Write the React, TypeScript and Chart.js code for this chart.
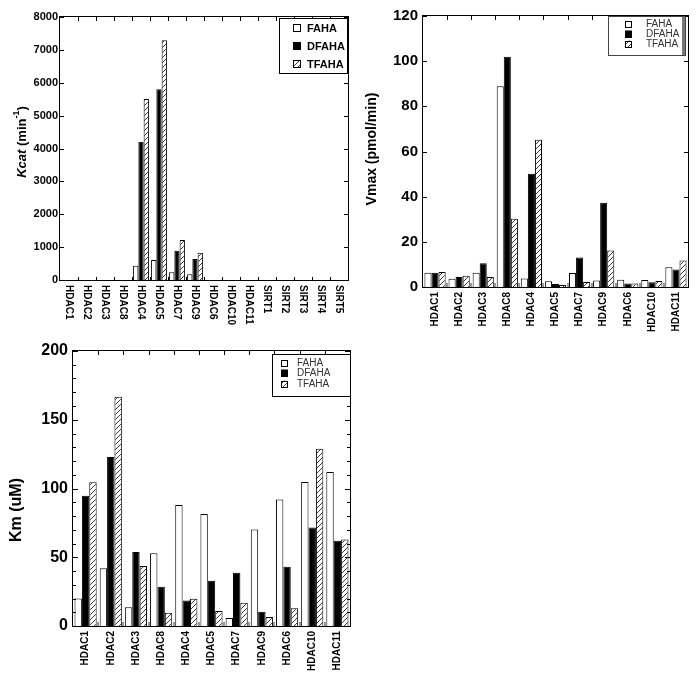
import React, { useEffect, useRef } from "react";
import { Chart, registerables } from "chart.js";
Chart.register(...registerables);

const seriesNames = ["FAHA", "DFAHA", "TFAHA"];

const kcatCategories = ["HDAC1", "HDAC2", "HDAC3", "HDAC8", "HDAC4", "HDAC5", "HDAC7", "HDAC9", "HDAC6", "HDAC10", "HDAC11", "SIRT1", "SIRT2", "SIRT3", "SIRT4", "SIRT5"];
const kcatFAHA = [0, 0, 0, 0, 435, 608, 233, 172, 0, 0, 0, 0, 0, 0, 0, 0];
const kcatDFAHA = [0, 0, 0, 0, 4203, 5802, 891, 638, 0, 0, 0, 0, 0, 0, 0, 0];
const kcatTFAHA = [0, 0, 0, 0, 5509, 7291, 1215, 830, 0, 0, 0, 0, 0, 0, 0, 0];

const enzymeCategories = ["HDAC1", "HDAC2", "HDAC3", "HDAC8", "HDAC4", "HDAC5", "HDAC7", "HDAC9", "HDAC6", "HDAC10", "HDAC11"];
const vmaxFAHA = [6.3, 3.7, 6.3, 88.9, 3.8, 2.5, 6.2, 2.9, 3.2, 3.1, 8.8];
const vmaxDFAHA = [6.3, 4.4, 10.5, 102, 50.1, 1.3, 13.1, 37.3, 1.6, 2.1, 7.7];
const vmaxTFAHA = [6.6, 5.0, 4.4, 30.2, 65.2, 0.9, 2.2, 16.2, 1.6, 2.7, 11.7];

const kmFAHA = [20, 42, 13.6, 53, 88, 81.4, 5.8, 70.2, 92, 104.8, 112];
const kmDFAHA = [94.7, 123, 53.8, 28.6, 18.6, 32.9, 38.7, 10.4, 43.1, 71.7, 62];
const kmTFAHA = [104.6, 166.8, 43.6, 9.7, 19.9, 10.9, 17, 6.5, 13, 129, 63];

const FONT = "'Liberation Sans', Arial, Helvetica, sans-serif";

function makeHatch(): CanvasPattern | string {
  const c = document.createElement("canvas");
  c.width = 5;
  c.height = 5;
  const g = c.getContext("2d");
  if (!g) return "#fff";
  g.fillStyle = "#fff";
  g.fillRect(0, 0, 5, 5);
  g.strokeStyle = "#222";
  g.lineWidth = 0.9;
  g.beginPath();
  g.moveTo(0, 5);
  g.lineTo(5, 0);
  g.moveTo(-1, 1);
  g.lineTo(1, -1);
  g.moveTo(4, 6);
  g.lineTo(6, 4);
  g.stroke();
  const p = g.createPattern(c, "repeat");
  return p || "#fff";
}

const framePlugin = {
  id: "frame",
  afterDatasetsDraw(chart: any, _args: any, opts: any) {
    const ctx: CanvasRenderingContext2D = chart.ctx;
    const a = chart.chartArea;
    const xs = chart.scales.x;
    const ys = chart.scales.y;
    const L = Math.round(a.left), R = Math.round(a.right), T = Math.round(a.top), B = Math.round(a.bottom);
    ctx.save();
    const n = chart.data.labels.length;
    for (let i = 1; i < n; i++) {
      const x = Math.round((xs.getPixelForValue(i - 1) + xs.getPixelForValue(i)) / 2);
      ctx.fillStyle = opts.bottomTickColor;
      ctx.fillRect(x - Math.floor(opts.bottomTickWidth / 2), B - opts.bottomTickLen, opts.bottomTickWidth, opts.bottomTickLen);
      ctx.fillStyle = "#000";
      ctx.fillRect(x, T, 1, opts.topTickLen);
    }
    ctx.fillStyle = "#000";
    const yMin = ys.min, yMax = ys.max;
    if (opts.minorStep) {
      for (let v = yMin; v <= yMax + 1e-9; v += opts.minorStep) {
        const y = Math.round(ys.getPixelForValue(v));
        ctx.fillRect(L, y, opts.minorLen, 1);
        ctx.fillRect(R - opts.minorLen, y, opts.minorLen, 1);
      }
    }
    ys.ticks.forEach((t: any) => {
      const y = Math.round(ys.getPixelForValue(t.value));
      ctx.fillRect(L, y, opts.majorLen, 1);
      ctx.fillRect(R - opts.majorLen, y, opts.majorLen, 1);
    });
    ctx.strokeStyle = "#000";
    ctx.lineWidth = 1;
    ctx.strokeRect(L - 0.5, T - 0.5, R - L + 1, B - T + 1);

    if (opts.downLabels) {
      ctx.fillStyle = "#000";
      ctx.font = opts.downLabelFont;
      ctx.textAlign = "left";
      ctx.textBaseline = "middle";
      chart.data.labels.forEach((lab: string, i: number) => {
        const x = xs.getPixelForValue(i);
        ctx.save();
        ctx.translate(x, B + 5);
        ctx.rotate(Math.PI / 2);
        ctx.fillText(lab, 0, 0);
        ctx.restore();
      });
    }

    if (opts.title) {
      const parts = opts.title.parts;
      let total = 0;
      parts.forEach((p: any) => {
        ctx.font = p.font;
        total += ctx.measureText(p.text).width;
      });
      ctx.save();
      ctx.translate(opts.title.x, opts.title.y);
      ctx.rotate(-Math.PI / 2);
      ctx.fillStyle = "#000";
      ctx.textBaseline = "middle";
      ctx.textAlign = "left";
      let cx = -total / 2;
      parts.forEach((p: any) => {
        ctx.font = p.font;
        ctx.fillText(p.text, cx, p.dy || 0);
        cx += ctx.measureText(p.text).width;
      });
      ctx.restore();
    }

    if (opts.legend) {
      const lg = opts.legend;
      ctx.fillStyle = "#fff";
      ctx.fillRect(lg.x, lg.y, lg.w, lg.h);
      if (lg.shadow) {
        ctx.fillStyle = "#777";
        ctx.fillRect(lg.x + lg.w - 3, lg.y, 3, lg.h);
      }
      ctx.strokeStyle = lg.border;
      ctx.lineWidth = 1;
      ctx.strokeRect(lg.x + 0.5, lg.y + 0.5, lg.w, lg.h);
      ctx.font = lg.font;
      ctx.textAlign = "left";
      ctx.textBaseline = "middle";
      chart.data.datasets.forEach((ds: any, i: number) => {
        const ry = lg.rows[i];
        ctx.fillStyle = ds.backgroundColor;
        ctx.fillRect(lg.boxX, ry - lg.box / 2, lg.box, lg.box);
        ctx.strokeStyle = "#000";
        ctx.strokeRect(lg.boxX + 0.5, Math.round(ry - lg.box / 2) + 0.5, lg.box - 1, lg.box - 1);
        ctx.fillStyle = lg.color;
        ctx.fillText(ds.label, lg.textX, ry + 0.5);
      });
    }
    ctx.restore();
  },
};

function datasets(vals: number[][], hatch: any) {
  const fills = ["#fff", "#000", hatch];
  return seriesNames.map((name, i) => ({
    label: name,
    data: vals[i],
    backgroundColor: fills[i],
    borderColor: "#000",
    borderWidth: 1,
    categoryPercentage: 0.88,
    barPercentage: 1,
  }));
}

const plainTick = (v: any) => String(v);

export default function App() {
  const c1 = useRef<HTMLCanvasElement>(null);
  const c2 = useRef<HTMLCanvasElement>(null);
  const c3 = useRef<HTMLCanvasElement>(null);

  useEffect(() => {
    const hatch = makeHatch();
    const charts: Chart[] = [];

    charts.push(
      new Chart(c1.current as HTMLCanvasElement, {
        type: "bar",
        data: { labels: kcatCategories, datasets: datasets([kcatFAHA, kcatDFAHA, kcatTFAHA], hatch) as any },
        plugins: [framePlugin as any],
        options: {
          responsive: false,
          animation: false,
          layout: { padding: { top: 17, right: 12, left: 0, bottom: 0 } },
          plugins: {
            legend: { display: false },
            tooltip: { enabled: false },
            frame: {
              bottomTickColor: "#000", bottomTickWidth: 1, bottomTickLen: 3, topTickLen: 4,
              majorLen: 4, minorStep: 0, minorLen: 0,
              downLabels: true, downLabelFont: `bold 10px ${FONT}`,
              title: {
                x: 22, y: 142,
                parts: [
                  { text: "Kcat", font: `italic bold 13px ${FONT}` },
                  { text: " (min", font: `bold 13px ${FONT}` },
                  { text: "-1", font: `bold 9px ${FONT}`, dy: -5 },
                  { text: ")", font: `bold 13px ${FONT}` },
                ],
              },
              legend: {
                x: 279, y: 18, w: 68, h: 55, shadow: false, border: "#000",
                rows: [28, 46, 64], boxX: 293, box: 8, textX: 307,
                font: `bold 11px ${FONT}`, color: "#000",
              },
            },
          } as any,
          scales: {
            x: {
              grid: { display: false, drawTicks: false },
              border: { display: false },
              ticks: { display: false },
              afterFit: (s: any) => { s.height = 55; },
            },
            y: {
              min: 0, max: 8000,
              grid: { display: false, drawTicks: false },
              border: { display: false },
              ticks: { stepSize: 1000, callback: plainTick, color: "#000", padding: 2, font: { family: FONT, size: 11, weight: "bold" } },
              afterFit: (s: any) => { s.width = 60; },
            },
          },
        },
      })
    );

    charts.push(
      new Chart(c2.current as HTMLCanvasElement, {
        type: "bar",
        data: { labels: enzymeCategories, datasets: datasets([vmaxFAHA, vmaxDFAHA, vmaxTFAHA], hatch) as any },
        plugins: [framePlugin as any],
        options: {
          responsive: false,
          animation: false,
          layout: { padding: { top: 16, right: 9, left: 0, bottom: 0 } },
          plugins: {
            legend: { display: false },
            tooltip: { enabled: false },
            frame: {
              bottomTickColor: "#999", bottomTickWidth: 2, bottomTickLen: 4, topTickLen: 4,
              majorLen: 4, minorStep: 0, minorLen: 0,
              title: {
                x: 12, y: 149,
                parts: [{ text: "Vmax (pmol/min)", font: `bold 14px ${FONT}` }],
              },
              legend: {
                x: 248, y: 16, w: 77, h: 39, shadow: true, border: "#444",
                rows: [24, 34, 44], boxX: 265, box: 7, textX: 286,
                font: `10px ${FONT}`, color: "#333",
              },
            },
          } as any,
          scales: {
            x: {
              grid: { display: false, drawTicks: false },
              border: { display: false },
              ticks: { autoSkip: false, minRotation: 90, maxRotation: 90, padding: 5, color: "#000", font: { family: FONT, size: 10, weight: "bold" } },
              afterFit: (s: any) => { s.height = 48; },
            },
            y: {
              min: 0, max: 120,
              grid: { display: false, drawTicks: false },
              border: { display: false },
              ticks: { stepSize: 20, callback: plainTick, color: "#000", padding: 5, font: { family: FONT, size: 15, weight: "bold" } },
              afterFit: (s: any) => { s.width = 63; },
            },
          },
        },
      })
    );

    charts.push(
      new Chart(c3.current as HTMLCanvasElement, {
        type: "bar",
        data: { labels: enzymeCategories, datasets: datasets([kmFAHA, kmDFAHA, kmTFAHA], hatch) as any },
        plugins: [framePlugin as any],
        options: {
          responsive: false,
          animation: false,
          layout: { padding: { top: 16, right: 10, left: 0, bottom: 0 } },
          plugins: {
            legend: { display: false },
            tooltip: { enabled: false },
            frame: {
              bottomTickColor: "#999", bottomTickWidth: 2, bottomTickLen: 4, topTickLen: 4,
              majorLen: 5, minorStep: 10, minorLen: 3,
              title: {
                x: 17, y: 175,
                parts: [{ text: "Km (uM)", font: `bold 16px ${FONT}` }],
              },
              legend: {
                x: 272, y: 19, w: 78, h: 42, shadow: false, border: "#000",
                rows: [28, 38, 49], boxX: 281, box: 7, textX: 297,
                font: `10px ${FONT}`, color: "#333",
              },
            },
          } as any,
          scales: {
            x: {
              grid: { display: false, drawTicks: false },
              border: { display: false },
              ticks: { autoSkip: false, minRotation: 90, maxRotation: 90, padding: 5, color: "#000", font: { family: FONT, size: 10, weight: "bold" } },
              afterFit: (s: any) => { s.height = 57; },
            },
            y: {
              min: 0, max: 200,
              grid: { display: false, drawTicks: false },
              border: { display: false },
              ticks: { stepSize: 50, callback: plainTick, color: "#000", padding: 5, font: { family: FONT, size: 16, weight: "bold" } },
              afterFit: (s: any) => { s.width = 73; },
            },
          },
        },
      })
    );

    return () => charts.forEach((c) => c.destroy());
  }, []);

  return (
    <div style={{ position: "absolute", left: 0, top: 0, width: 697, height: 683, background: "#fff" }}>
      <canvas ref={c1} width={360} height={335} style={{ position: "absolute", left: 0, top: 0, width: 360, height: 335 }} />
      <canvas ref={c2} width={337} height={335} style={{ position: "absolute", left: 360, top: 0, width: 337, height: 335 }} />
      <canvas ref={c3} width={360} height={348} style={{ position: "absolute", left: 0, top: 335, width: 360, height: 348 }} />
    </div>
  );
}
